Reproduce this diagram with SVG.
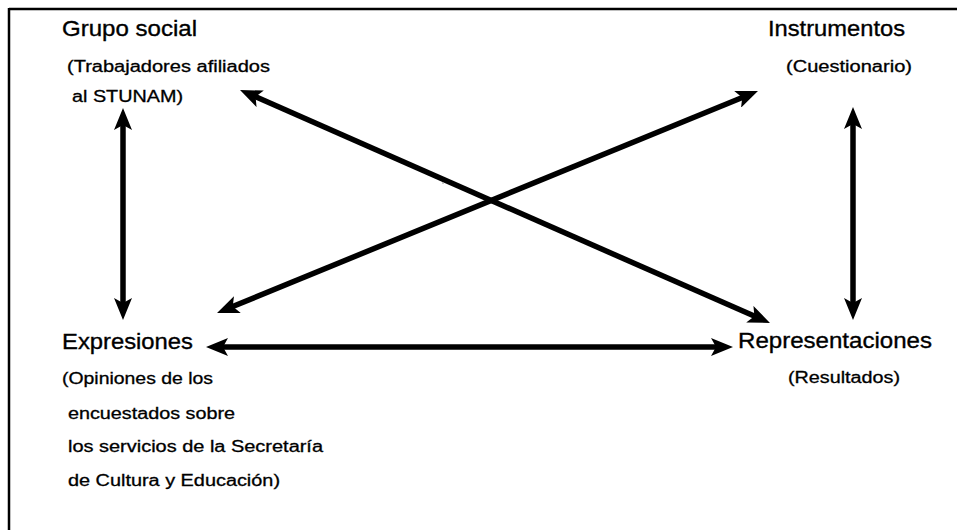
<svg xmlns="http://www.w3.org/2000/svg" width="957" height="530" viewBox="0 0 957 530">
  <style>
    .big { font-family: "Liberation Sans", Arial, sans-serif; font-size: 22px; fill: #000; stroke: #000; stroke-width: 0.35; }
    .small { font-family: "Liberation Sans", Arial, sans-serif; font-size: 16px; fill: #000; stroke: #000; stroke-width: 0.3; }
    .conn { stroke: #000; stroke-width: 5.5; fill: none; marker-start: url(#head); marker-end: url(#head); }
  </style>
  <defs>
    <marker id="head" markerUnits="userSpaceOnUse" viewBox="0 0 22 18" markerWidth="22" markerHeight="18" refX="11" refY="9" orient="auto-start-reverse">
      <path d="M0,0 L22,9 L0,18 L5,9 z" fill="#000"/>
    </marker>
  </defs>
  <rect width="957" height="530" fill="#fff"/>
  <g id="frame">
    <line x1="9" y1="9" x2="957" y2="9" stroke="#000" stroke-width="2.5"/>
    <line x1="9" y1="8" x2="9" y2="530" stroke="#000" stroke-width="2.5"/>
  </g>
  <g id="grupo-social">
    <text class="big" x="62" y="36" textLength="135" lengthAdjust="spacingAndGlyphs">Grupo social</text>
    <text class="small" x="67" y="72" textLength="203" lengthAdjust="spacingAndGlyphs">(Trabajadores afiliados</text>
    <text class="small" x="72" y="102" textLength="111" lengthAdjust="spacingAndGlyphs">al STUNAM)</text>
  </g>
  <g id="instrumentos">
    <text class="big" x="768" y="36" textLength="137" lengthAdjust="spacingAndGlyphs">Instrumentos</text>
    <text class="small" x="786" y="72" textLength="126" lengthAdjust="spacingAndGlyphs">(Cuestionario)</text>
  </g>
  <g id="expresiones">
    <text class="big" x="62" y="349" textLength="131" lengthAdjust="spacingAndGlyphs">Expresiones</text>
    <text class="small" x="62" y="384" textLength="151" lengthAdjust="spacingAndGlyphs">(Opiniones de los</text>
    <text class="small" x="68" y="419" textLength="167" lengthAdjust="spacingAndGlyphs">encuestados sobre</text>
    <text class="small" x="68" y="452" textLength="255" lengthAdjust="spacingAndGlyphs">los servicios de la Secretaría</text>
    <text class="small" x="68" y="486" textLength="212" lengthAdjust="spacingAndGlyphs">de Cultura y Educación)</text>
  </g>
  <g id="representaciones">
    <text class="big" x="738" y="348" textLength="194" lengthAdjust="spacingAndGlyphs">Representaciones</text>
    <text class="small" x="788" y="383" textLength="112" lengthAdjust="spacingAndGlyphs">(Resultados)</text>
  </g>
  <g id="connectors">
    <line class="conn" x1="123" y1="119" x2="123" y2="309"/>
    <line class="conn" x1="853" y1="118" x2="853" y2="309"/>
    <line class="conn" x1="217" y1="347" x2="722" y2="347"/>
    <line class="conn" x1="250.1" y1="94.4" x2="759.9" y2="318.6"/>
    <line class="conn" x1="227.2" y1="308.8" x2="747.8" y2="95.2"/>
  </g>
  <circle cx="443" cy="183" r="0.8" fill="#888"/>
</svg>
